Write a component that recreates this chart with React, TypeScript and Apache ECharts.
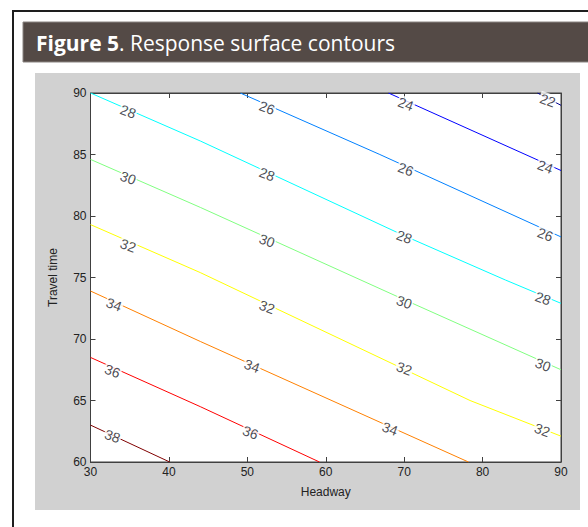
import React, { useEffect, useRef } from "react";
import * as echarts from "echarts";

// Axis ranges / ticks
const X_MIN = 30, X_MAX = 90, X_STEP = 10;
const Y_MIN = 60, Y_MAX = 90, Y_STEP = 5;
const xName = "Headway";
const yName = "Travel time";
const title = ["Figure 5", ". Response surface contours"];

// Contour levels and their jet colours
const levels = [22, 24, 26, 28, 30, 32, 34, 36, 38];
const levelColors = ["#00008f", "#0000ff", "#0080ff", "#00ffff", "#80ff80", "#ffff00", "#ff8000", "#ff0000", "#800000"];

// Contour polylines [headway, travel time]
const contour22 = [[87, 90], [90, 89.0]];
const contour24 = [[68, 90], [90, 83.7]];
const contour26 = [[49.1, 90], [66.9, 85.0], [90, 78.3]];
const contour28 = [[30, 90], [44, 86.1], [70, 78.4], [82.9, 74.8], [90, 72.9]];
const contour30 = [[30, 84.6], [44, 80.7], [70, 73.2], [90, 67.5]];
const contour32 = [[30, 79.3], [44, 75.4], [78.4, 65.0], [90, 62.1]];
const contour34 = [[30, 73.9], [44, 69.8], [78.2, 60]];
const contour36 = [[30, 68.5], [44, 64.5], [59.2, 60]];
const contour38 = [[30, 63.0], [40.1, 60]];
const contours = [contour22, contour24, contour26, contour28, contour30, contour32, contour34, contour36, contour38];

// Contour labels [headway, travel time, level]
const contourLabels = [
  [34.8, 88.5, 28], [52.5, 88.8, 26], [70.2, 89.1, 24], [88.3, 89.4, 22],
  [34.8, 83.1, 30], [52.5, 83.4, 28], [70.2, 83.8, 26], [88, 84.0, 24],
  [34.8, 77.6, 32], [52.5, 78.0, 30], [70, 78.3, 28], [88, 78.5, 26],
  [33, 72.8, 34], [52.5, 72.6, 32], [70, 73.0, 30], [87.7, 73.3, 28],
  [32.8, 67.4, 36], [50.6, 67.8, 34], [70, 67.6, 32], [87.7, 67.9, 30],
  [32.8, 62.1, 38], [50.4, 62.4, 36], [68.2, 62.7, 34], [87.6, 62.6, 32],
];

const FONT = "'Liberation Sans', Arial, sans-serif";

export default function App() {
  const ref = useRef<HTMLDivElement>(null);
  useEffect(() => {
    if (!ref.current) return;
    const chart = echarts.init(ref.current, null, { renderer: "svg" });
    const axisLine = { show: true, lineStyle: { color: "#404040", width: 1 } };
    const lineSeries = contours.map((pts, i) => ({
      type: "line",
      name: String(levels[i]),
      data: pts,
      showSymbol: false,
      symbol: "none",
      smooth: false,
      lineStyle: { color: levelColors[i], width: 1 },
      z: 2,
    }));
    chart.setOption({
      animation: false,
      backgroundColor: "#ffffff",
      graphic: [
        { type: "rect", z: -100, shape: { x: 12, y: 10, width: 576, height: 2 }, style: { fill: "#1e1e1e" } },
        { type: "rect", z: -100, shape: { x: 12, y: 10, width: 2, height: 517 }, style: { fill: "#1e1e1e" } },
        { type: "rect", z: -100, shape: { x: 23, y: 22, width: 566, height: 40 }, style: { fill: "#544a46", stroke: "#8a8481", lineWidth: 1 } },
        {
          type: "text", z: 10, x: 36, y: 43,
          style: {
            text: "{b|" + title[0] + "}{r|" + title[1] + "}",
            verticalAlign: "middle",
            rich: {
              b: { fontFamily: "'Open Sans', sans-serif", fontWeight: "bold", fontSize: 21, fill: "#ffffff" },
              r: { fontFamily: "'Open Sans', sans-serif", fontSize: 21, fill: "#ffffff" },
            },
          },
        },
        { type: "rect", z: -100, shape: { x: 35, y: 73, width: 545, height: 437 }, style: { fill: "#d1d1d1" } },
      ],
      grid: {
        left: 90.5, right: 27, top: 93, bottom: 65,
        show: true, backgroundColor: "#ffffff", borderColor: "#404040", borderWidth: 1,
      },
      xAxis: [
        {
          type: "value", min: X_MIN, max: X_MAX, interval: X_STEP, position: "bottom",
          name: xName, nameLocation: "middle", nameGap: 24,
          nameTextStyle: { fontFamily: FONT, fontSize: 12, color: "#222" },
          axisLine, axisTick: { show: true, inside: true, length: 5, lineStyle: { color: "#404040" } },
          axisLabel: { fontFamily: FONT, fontSize: 12, color: "#222", margin: 4 },
          splitLine: { show: false },
        },
        {
          type: "value", min: X_MIN, max: X_MAX, interval: X_STEP, position: "top",
          axisLine, axisTick: { show: true, inside: true, length: 5, lineStyle: { color: "#404040" } },
          axisLabel: { show: false }, splitLine: { show: false },
        },
      ],
      yAxis: [
        {
          type: "value", min: Y_MIN, max: Y_MAX, interval: Y_STEP, position: "left",
          name: yName, nameLocation: "middle", nameGap: 32, nameRotate: 90,
          nameTextStyle: { fontFamily: FONT, fontSize: 12, color: "#222" },
          axisLine, axisTick: { show: true, inside: true, length: 5, lineStyle: { color: "#404040" } },
          axisLabel: { fontFamily: FONT, fontSize: 12, color: "#222", margin: 4 },
          splitLine: { show: false },
        },
        {
          type: "value", min: Y_MIN, max: Y_MAX, interval: Y_STEP, position: "right",
          axisLine, axisTick: { show: true, inside: true, length: 5, lineStyle: { color: "#404040" } },
          axisLabel: { show: false }, splitLine: { show: false },
        },
      ],
      series: [
        ...lineSeries,
        {
          type: "scatter",
          data: contourLabels,
          symbol: "circle",
          symbolSize: 1,
          itemStyle: { color: "rgba(0,0,0,0)" },
          z: 5,
          label: {
            show: true,
            position: "inside",
            formatter: (p: any) => String(p.value[2]),
            rotate: -20,
            fontFamily: FONT,
            fontSize: 14,
            color: "#1a1a2a",
            backgroundColor: "#ffffff",
            padding: [0, 1],
          },
        },
      ],
    });
    return () => chart.dispose();
  }, []);
  return (
    <div
      ref={ref}
      style={{ position: "fixed", left: 0, top: 0, width: 588, height: 527 }}
    />
  );
}
